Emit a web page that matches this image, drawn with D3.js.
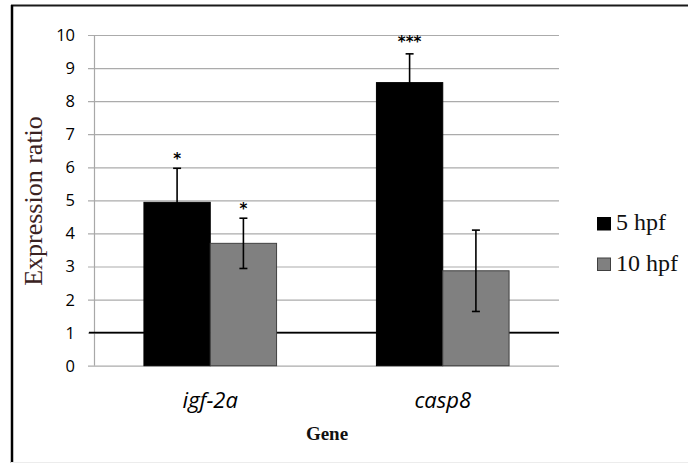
<!DOCTYPE html>
<html><head><meta charset="utf-8">
<script src="https://cdn.jsdelivr.net/npm/d3@7"></script>
<style>html,body{margin:0;padding:0;background:#fff;}svg{display:block;}</style>
</head><body>
<svg id="c" width="688" height="463"></svg>
<script>
const genes = ["igf-2a", "casp8"];
const series = ["5 hpf", "10 hpf"];
const colors = ["#000000", "#808080"];
const values5 = [4.94, 8.56];
const values10 = [3.70, 2.87];
const err5 = [1.03, 0.87];
const err10 = [0.76, 1.23];
const stars5 = ["*", "***"];
const stars10 = ["*", ""];
const yTicks = [0,1,2,3,4,5,6,7,8,9,10];
const refLine = 1;

(function(){
const svg = d3.select("#c");
const W = 688, H = 463;
svg.append("rect").attr("width", W).attr("height", H).attr("fill", "#fff");
// frame
svg.append("line").attr("x1", 11).attr("x2", 688).attr("y1", 5.5).attr("y2", 5.5).attr("stroke", "#1a1a1a").attr("stroke-width", 2);
svg.append("line").attr("x1", 12).attr("x2", 12).attr("y1", 5).attr("y2", 463).attr("stroke", "#000").attr("stroke-width", 2.5);
svg.append("line").attr("x1", 11).attr("x2", 688).attr("y1", 462.5).attr("y2", 462.5).attr("stroke", "#ececec").attr("stroke-width", 1);

const pL = 94, pR = 559, pT = 35, pB = 365.7;
const y = d3.scaleLinear().domain([0, 10]).range([pB, pT]);
const x0 = d3.scaleBand().domain(genes).range([pL, pR]).padding(0);
const x1 = d3.scaleBand().domain(series).range([0, x0.bandwidth()]).paddingInner(0).paddingOuter(0.753);

// gridlines
const yAxis = d3.axisLeft(y).tickValues(yTicks).tickSize(-(pR - pL)).tickPadding(0).tickFormat("");
const g = svg.append("g").attr("transform", `translate(${pL},0)`).call(yAxis);
g.select(".domain").remove();
g.selectAll(".tick line").attr("stroke", "#ababab").attr("stroke-width", 1.2).attr("x1", -6);
// y axis line
svg.append("line").attr("x1", pL + 0.5).attr("x2", pL + 0.5).attr("y1", pT).attr("y2", pB)
  .attr("stroke", "#a8a8a8").attr("stroke-width", 1.2);
// tick labels
svg.append("g").selectAll("text").data(yTicks).join("text")
  .attr("x", 75).attr("y", d => y(d)).attr("dy", "0.36em")
  .attr("text-anchor", "end").attr("font-family", "'Open Sans', sans-serif").attr("font-size", 16.5)
  .attr("fill", "#000").text(d => d);

// reference line (behind bars)
svg.append("line").attr("x1", 89).attr("x2", pR).attr("y1", y(refLine)).attr("y2", y(refLine))
  .attr("stroke", "#000").attr("stroke-width", 1.6);

const data = genes.map((gname, i) => ({
  gene: gname,
  bars: [
    {s: series[0], v: values5[i], e: err5[i], star: stars5[i], c: colors[0]},
    {s: series[1], v: values10[i], e: err10[i], star: stars10[i], c: colors[1]}
  ]
}));

const grp = svg.append("g").selectAll("g").data(data).join("g")
  .attr("transform", d => `translate(${x0(d.gene)},0)`);
grp.selectAll("rect").data(d => d.bars).join("rect")
  .attr("x", d => x1(d.s)).attr("width", x1.bandwidth())
  .attr("y", d => y(d.v)).attr("height", d => y(0) - y(d.v))
  .attr("fill", d => d.c).attr("stroke", d => d.c === "#000000" ? "#000" : "#404040").attr("stroke-width", 1);

// error bars
const eb = grp.selectAll("g.eb").data(d => d.bars).join("g").attr("class", "eb")
  .attr("transform", d => `translate(${x1(d.s) + x1.bandwidth() / 2},0)`);
eb.append("line").attr("x1", 0).attr("x2", 0).attr("y1", d => y(d.v - d.e)).attr("y2", d => y(d.v + d.e))
  .attr("stroke", "#000").attr("stroke-width", 1.6);
eb.append("line").attr("x1", -4).attr("x2", 4).attr("y1", d => y(d.v + d.e)).attr("y2", d => y(d.v + d.e))
  .attr("stroke", "#000").attr("stroke-width", 1.6);
eb.append("line").attr("x1", -4).attr("x2", 4).attr("y1", d => y(d.v - d.e)).attr("y2", d => y(d.v - d.e))
  .attr("stroke", "#000").attr("stroke-width", 1.6);
eb.append("text").attr("x", 0).attr("y", d => y(d.v + d.e) - (d.star.length > 1 ? 7 : 4))
  .attr("text-anchor", "middle").attr("font-family", "'DejaVu Sans', sans-serif").attr("font-weight", "bold")
  .attr("font-size", 15).attr("fill", "#000").text(d => d.star);

// category labels
svg.append("g").selectAll("text").data(genes).join("text")
  .attr("x", d => x0(d) + x0.bandwidth() / 2).attr("y", 408)
  .attr("text-anchor", "middle").attr("font-family", "'Open Sans', sans-serif").attr("font-style", "italic")
  .attr("font-size", 22).attr("fill", "#000").text(d => d);

// axis titles
svg.append("text").attr("x", 327).attr("y", 440).attr("text-anchor", "middle")
  .attr("font-family", "'Liberation Serif', serif").attr("font-weight", "bold").attr("font-size", 19)
  .attr("fill", "#111").text("Gene");
svg.append("text").attr("transform", "translate(42,201) rotate(-90)").attr("text-anchor", "middle")
  .attr("font-family", "'Liberation Serif', serif").attr("font-size", 26)
  .attr("fill", "#3a2222").text("Expression ratio");

// legend
const lg = svg.append("g").selectAll("g").data(series).join("g")
  .attr("transform", (d, i) => `translate(597,${217 + i * 40.5})`);
lg.append("rect").attr("x", 0.5).attr("y", 0.5).attr("width", 13).attr("height", 12.5)
  .attr("fill", (d, i) => colors[i]).attr("stroke", (d, i) => i ? "#404040" : "#000");
lg.append("text").attr("x", 19).attr("y", 13).attr("font-family", "'Liberation Serif', serif")
  .attr("font-size", 24).attr("fill", "#111").text(d => d);
})();
</script>
</body></html>
